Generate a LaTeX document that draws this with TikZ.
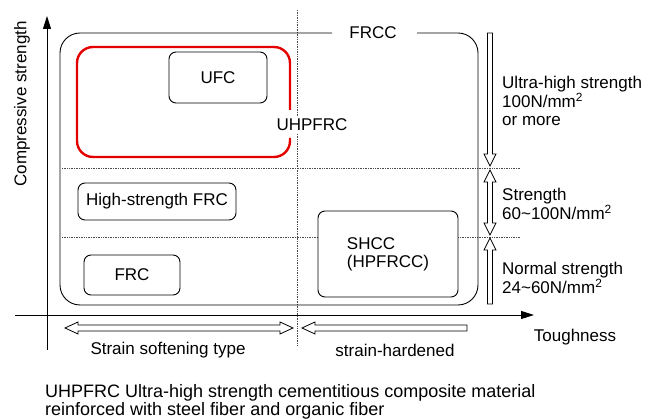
\documentclass[tikz,border=0pt]{standalone}
\usepackage{fontspec}
\setmainfont{Liberation Sans}
\usetikzlibrary{arrows.meta}
\newcommand\tld{{\char"007E\relax}}
\begin{document}
\begin{tikzpicture}[x=1pt,y=-1pt,
  every node/.style={font=\fontsize{17}{18}\selectfont, inner sep=0pt},
  box/.style={draw, line width=0.9pt, rounded corners=7pt, fill=white},
  frame/.style={line width=0.9pt, rounded corners=20pt},
  redframe/.style={draw=red!90!black, line width=2.4pt, rounded corners=16pt},
  dots/.style={densely dotted, line width=0.7pt, black!70},
  axis/.style={line width=0.9pt, -{Triangle[length=13pt,width=8pt]}},
  hollow/.style={draw, line width=0.8pt, fill=white, line join=miter},
  lbl/.style={align=left, anchor=north west}]
\useasboundingbox (0,0) rectangle (657,419);
% dotted grid
\coordinate (vt) at (297,10); \coordinate (vb) at (297,346);
\draw[dots] (vt) -- (vb);
\coordinate (h1l) at (62,168); \coordinate (h1r) at (520,168);
\coordinate (h2l) at (62,237); \coordinate (h2r) at (520,237);
\draw[dots] (h1l) -- (h1r);
\draw[dots] (h2l) -- (h2r);
% axes
\coordinate (yb) at (47,350); \coordinate (yt) at (47,16);
\coordinate (xl) at (15,315); \coordinate (xr) at (534,315);
\draw[axis] (yb) -- (yt);
\draw[axis] (xl) -- (xr);
\node[rotate=90] (ylab) at (22,104) {Compressive strength};
\node (xlab) at (575,337) {Toughness};
% FRCC frame
\draw[frame] (332,33) -- (60,33) -- (60,305) -- (478,305) -- (478,33) -- (417,33);
\node (frcc) at (373,33) {FRCC};
% red UHPFRC frame
\draw[redframe] (290,110) -- (290,47) -- (77,47) -- (77,157) -- (290,157) -- (290,138);
\node[fill=white, inner sep=2pt] (uhpfrc) at (312,125) {UHPFRC};
% boxes
\node[box, minimum width=98pt, minimum height=51pt] (ufc) at (218,77.5) {UFC};
\node[box, minimum width=158pt, minimum height=37pt] (hsfrc) at (157,201.5) {High-strength FRC};
\node[box, minimum width=96pt, minimum height=40pt] (frc) at (132,275) {FRC};
\node[box, minimum width=140pt, minimum height=86pt, align=left] (shcc) at (388,254) {SHCC\\(HPFRCC)};
% right hollow arrows
\draw[hollow] (487.5,33) -- (492.5,33) -- (492.5,154) -- (496,154) -- (490,166) -- (484,154) -- (487.5,154) -- cycle;
\draw[hollow] (490,170) -- (496,182) -- (492.5,182) -- (492.5,223) -- (496,223) -- (490,235) -- (484,223) -- (487.5,223) -- (487.5,182) -- (484,182) -- cycle;
\draw[hollow] (490,238) -- (496,250) -- (492.5,250) -- (492.5,304) -- (487.5,304) -- (487.5,250) -- (484,250) -- cycle;
\node[lbl] (uhs) at (502,76) {Ultra-high strength\\100N/mm\textsuperscript{2}\\or more};
\node[lbl] (str) at (502,188) {Strength\\60\tld100N/mm\textsuperscript{2}};
\node[lbl] (nstr) at (502,262) {Normal strength\\24\tld60N/mm\textsuperscript{2}};
% bottom hollow arrows
\draw[hollow] (65,328) -- (78,322) -- (78,325) -- (280,325) -- (280,322) -- (293,328) -- (280,334) -- (280,331) -- (78,331) -- (78,334) -- cycle;
\draw[hollow] (302,328) -- (315,322) -- (315,325) -- (467,325) -- (467,331) -- (315,331) -- (315,334) -- cycle;
\node (soft) at (168,350) {Strain softening type};
\node (hard) at (395,350) {strain-hardened};
% caption
\node[lbl, font=\fontsize{18}{14.5}\selectfont] (cap) at (45,384) {UHPFRC Ultra-high strength cementitious composite material\\reinforced with steel fiber and organic fiber};
\end{tikzpicture}
\end{document}
